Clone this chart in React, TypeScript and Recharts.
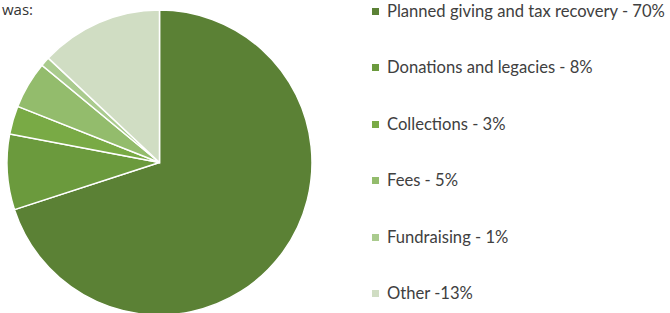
import { PieChart, Pie, Cell, Legend } from 'recharts';

const categories = [
    'Planned giving and tax recovery - 70%',
    'Donations and legacies - 8%',
    'Collections - 3%',
    'Fees - 5%',
    'Fundraising - 1%',
    'Other -13%',
];
const values = [70, 8, 3, 5, 1, 13];
const colors = ['#5b8135', '#6b9a3d', '#79aa45', '#93bc6c', '#aacb8e', '#d0ddc3'];

const data = categories.map((name, i) => ({ name, value: values[i] }));

const renderLegend = () => (
    <div>
        {data.map((d, i) => (
            <div key={d.name} style={{ height: 56.4, display: 'flex', alignItems: 'flex-start' }}>
                <span style={{ display: 'inline-block', width: 7, height: 7, background: colors[i], marginTop: 6, marginRight: 8, flexShrink: 0 }} />
                <span style={{ fontFamily: 'Lato, sans-serif', fontSize: 16.6, color: '#404040', lineHeight: '19px', whiteSpace: 'nowrap' }}>{d.name}</span>
            </div>
        ))}
    </div>
);

export default function App() {
    return (
        <div style={{ position: 'absolute', top: 0, left: 0, width: 670, height: 313, overflow: 'hidden', background: '#fff' }}>
            <div style={{ position: 'absolute', left: 2, top: 1, fontFamily: '"Open Sans", sans-serif', fontSize: 15, lineHeight: '16px', color: '#333' }}>was:</div>
            <PieChart width={670} height={313} margin={{ top: 0, right: 0, bottom: 0, left: 0 }}>
                <Pie
                    data={data}
                    dataKey="value"
                    cx={159.5}
                    cy={162.5}
                    outerRadius={152.5}
                    startAngle={90}
                    endAngle={-270}
                    stroke="#fff"
                    strokeWidth={1.5}
                    isAnimationActive={false}
                >
                    {data.map((d, i) => (
                        <Cell key={d.name} fill={colors[i]} />
                    ))}
                </Pie>
                <Legend
                    content={renderLegend}
                    wrapperStyle={{ position: 'absolute', left: 372, top: 2, width: 298 }}
                />
            </PieChart>
        </div>
    );
}
